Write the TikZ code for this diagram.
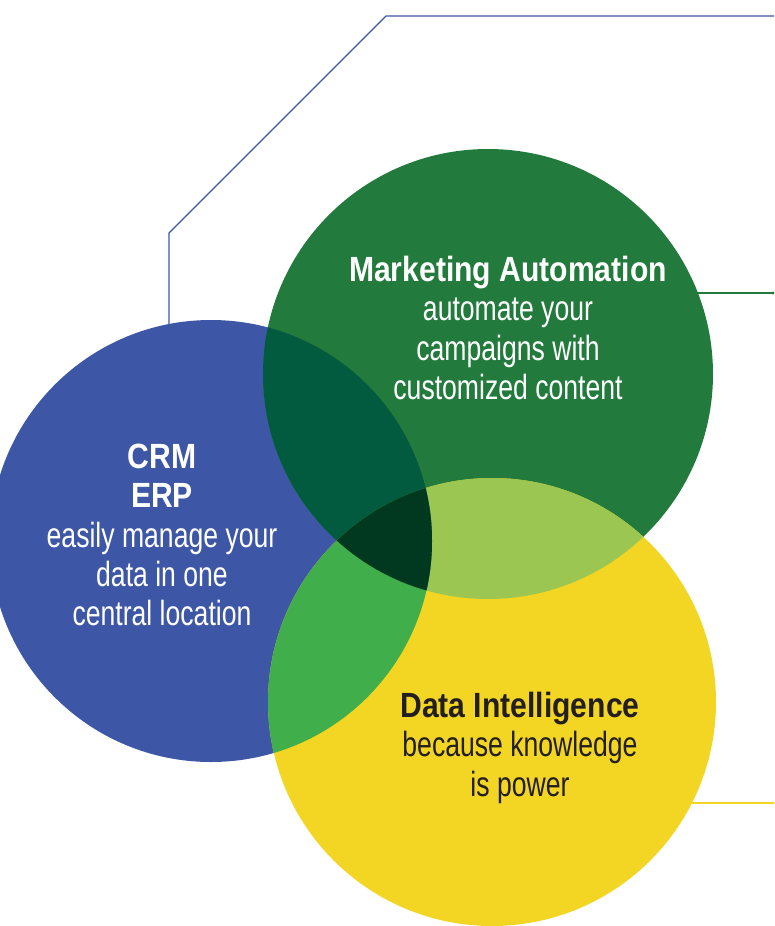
\documentclass[tikz,border=0pt]{standalone}
\usepackage{fontspec}
\setmainfont{Liberation Sans}[FakeStretch=0.76, BoldFeatures={FakeStretch=0.86}]
\definecolor{cblue}{HTML}{3D56A6}
\definecolor{cgreen}{HTML}{237A3D}
\definecolor{cyellow}{HTML}{F3D523}
\definecolor{cbg}{HTML}{035B3F}
\definecolor{cby}{HTML}{40AE4A}
\definecolor{cgy}{HTML}{9BC652}
\definecolor{cbgy}{HTML}{00391F}
\definecolor{ctxt}{HTML}{231F20}
\tikzset{
  x=1pt, y=-1pt,
  lbl/.style={align=center, font=\fontsize{35}{39.3}\selectfont, inner sep=0pt, anchor=north},
  leader/.style={line width=1.2pt},
}
\begin{document}
\begin{tikzpicture}
\useasboundingbox (0,0) rectangle (775,926);
\coordinate (cb) at (211,541);
\coordinate (cg) at (488,374);
\coordinate (cy) at (492,702);
% leader lines
\coordinate (b0) at (169,400);
\coordinate (b1) at (169,233);
\coordinate (b2) at (386,16);
\coordinate (b3) at (774,16);
\draw[leader, cblue] (b0) -- (b1) -- (b2) -- (b3);
\coordinate (g0) at (600,293);
\coordinate (g1) at (773,293);
\draw[leader, cgreen] (g0) -- (g1);
\fill[cgreen] (g1) circle (1.6);
\coordinate (y0) at (600,803);
\coordinate (y1) at (773,803);
\draw[leader, cyellow] (y0) -- (y1);
\fill[cyellow] (y1) circle (1.6);
% circles
\fill[cblue] (cb) circle (221);
\fill[cgreen] (cg) circle (225);
\fill[cyellow] (cy) circle (224);
\begin{scope}
  \clip (cg) circle (225);
  \clip (cy) circle (224);
  \fill[cgy] (0,0) rectangle (775,926);
\end{scope}
\begin{scope}
  \clip (cb) circle (221);
  \fill[cbg] (cg) circle (225);
  \fill[cby] (cy) circle (224);
  \clip (cg) circle (225);
  \fill[cbgy] (cy) circle (224);
\end{scope}
% texts
\node[lbl, text=white] (ma) at (508,256) {\textbf{Marketing Automation}\\automate your\\campaigns with\\customized content};
\node[lbl, text=white] (crm) at (162,444) {\textbf{CRM}\\\textbf{ERP}\\easily manage your\\data in one\\central location};
\node[lbl, text=ctxt] (di) at (520,692) {\textbf{Data Intelligence}\\because knowledge\\is power};
\end{tikzpicture}
\end{document}
